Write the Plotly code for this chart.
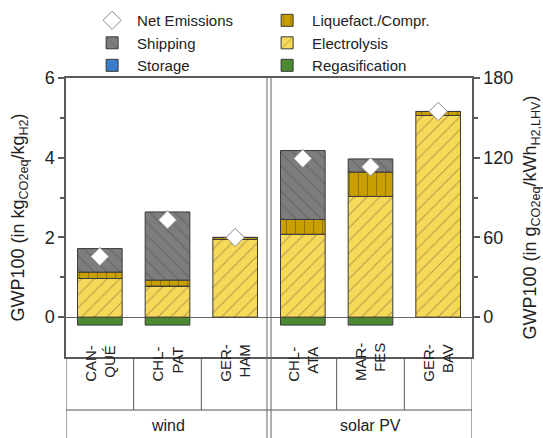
import plotly.graph_objects as go

# Production routes (category labels) and their grouping by power source
routes = ["CAN-<br>QUÉ", "CHL-<br>PAT", "GER-<br>HAM", "CHL-<br>ATA", "MAR-<br>FES", "GER-<br>BAV"]
groups = ["wind", "solar PV"]
group_sizes = [3, 3]

# Emission contributions in kg CO2eq / kg H2
regasification = [-0.20, -0.20, 0.0, -0.20, -0.20, 0.0]
electrolysis = [0.97, 0.78, 1.95, 2.08, 3.03, 5.06]
storage = [0.0, 0.0, 0.0, 0.0, 0.0, 0.0]
liquefaction = [0.16, 0.15, 0.05, 0.37, 0.61, 0.10]
shipping = [0.59, 1.71, 0.0, 1.73, 0.33, 0.0]
net_emissions = [1.52, 2.44, 2.00, 3.98, 3.77, 5.16]

# kg CO2eq/kg H2 -> g CO2eq/kWh H2 (LHV)
CONV = 30.0

left_ticks = [0, 2, 4, 6]
right_ticks = [0, 60, 120, 180]

x = list(range(len(routes)))
edge = "#3a3a3a"
axis_col = "#5a5a5a"

fig = go.Figure()

def add_bar(name, vals, color, shape, fg, rank):
    fig.add_trace(go.Bar(
        x=x, y=vals, name=name, width=0.66, legendrank=rank,
        marker=dict(color=color, line=dict(color=edge, width=1),
                    pattern=dict(shape=shape, fgcolor=fg, size=9, solidity=0.12)),
    ))

add_bar("Regasification", regasification, "#4b8a30", "", "#2f5a1c", 6)
add_bar("Electrolysis", electrolysis, "#f7d95a", "/", "#6e6030", 4)
add_bar("Storage", storage, "#3b7fcf", "x", "#1d3f6e", 5)
add_bar("Liquefact./Compr.", liquefaction, "#c9a000", "|", "#5e4a00", 2)
add_bar("Shipping", shipping, "#7d7d7d", "\\", "#4a4a4a", 3)

fig.add_trace(go.Scatter(
    x=x, y=net_emissions, mode="markers", name="Net Emissions", legendrank=1,
    marker=dict(symbol="diamond", size=14, color="white", line=dict(color="#888888", width=1)),
))

# invisible companion trace for the secondary (g/kWh) axis
fig.add_trace(go.Scatter(
    x=x, y=[v * CONV for v in net_emissions], yaxis="y2", mode="markers",
    marker=dict(opacity=0), showlegend=False, hoverinfo="skip",
))

font = "Liberation Sans, Arial, sans-serif"

fig.update_layout(
    width=543, height=438,
    margin=dict(l=66, r=71, t=78, b=81, autoexpand=False),
    paper_bgcolor="white", plot_bgcolor="white",
    barmode="relative",
    font=dict(family=font, size=14, color="#222"),
    showlegend=True,
    legend=dict(orientation="h", x=0.052, y=1.265, xanchor="left", yanchor="top",
                entrywidth=120, itemwidth=40, tracegroupgap=0,
                font=dict(size=15), bgcolor="rgba(0,0,0,0)"),
    xaxis=dict(range=[-0.5, len(routes) - 0.5], showticklabels=False, ticks="",
               showgrid=False, zeroline=False, showline=True, linecolor=axis_col,
               linewidth=1.5, mirror=True),
    yaxis=dict(range=[-1, 6], tickvals=left_ticks, ticks="outside", ticklen=6,
               tickwidth=1.5, tickcolor=axis_col, showgrid=False,
               zeroline=True, zerolinecolor="#666", zerolinewidth=1,
               showline=True, linecolor=axis_col, linewidth=1.5,
               minor=dict(tickvals=[1, 3, 5], ticks="outside", ticklen=4, tickcolor=axis_col),
               tickfont=dict(size=18),
               title=dict(text="GWP100 (in kg<sub>CO2eq</sub>/kg<sub>H2</sub>)",
                          font=dict(size=18), standoff=15)),
    yaxis2=dict(range=[-1 * CONV, 6 * CONV], tickvals=right_ticks, overlaying="y",
                side="right", ticks="outside", ticklen=6, tickwidth=1.5,
                tickcolor=axis_col, showgrid=False, zeroline=False,
                showline=True, linecolor=axis_col, linewidth=1.5,
                minor=dict(tickvals=[30, 90, 150], ticks="outside", ticklen=4, tickcolor=axis_col),
                tickfont=dict(size=18),
                title=dict(text="GWP100 (in g<sub>CO2eq</sub>/kWh<sub>H2,LHV</sub>)",
                           font=dict(size=18), standoff=13)),
)

# Category table below the plot area
row1 = -0.19
row2 = -0.32
line = dict(color="#555", width=1)
n = len(routes)
fig.add_shape(type="line", xref="x", yref="paper", x0=-0.5, x1=n - 0.5, y0=row1, y1=row1, line=line)
fig.add_shape(type="line", xref="x", yref="paper", x0=-0.5, x1=-0.5, y0=0, y1=row2, line=line)
fig.add_shape(type="line", xref="x", yref="paper", x0=n - 0.5, x1=n - 0.5, y0=0, y1=row2, line=line)
for i in range(1, n):
    if i == group_sizes[0]:
        continue
    fig.add_shape(type="line", xref="x", yref="paper", x0=i - 0.5, x1=i - 0.5, y0=0, y1=row1, line=line)

# Double divider between the wind and solar PV panels
split = group_sizes[0] - 0.5
for dx in (-0.03, 0.03):
    fig.add_shape(type="line", xref="x", yref="paper", x0=split + dx, x1=split + dx,
                  y0=1, y1=row2, line=dict(color="#666", width=1))

for i, r in enumerate(routes):
    fig.add_annotation(x=i, y=row1 / 2, xref="x", yref="paper", text=r, textangle=-90,
                       showarrow=False, font=dict(size=15), align="right")

start = 0
for g, s in zip(groups, group_sizes):
    fig.add_annotation(x=start + (s - 1) / 2, y=(row1 + row2) / 2 + 0.01, xref="x", yref="paper",
                       text=g, showarrow=False, font=dict(size=16), yanchor="middle")
    start += s

fig.write_html("out.html")
